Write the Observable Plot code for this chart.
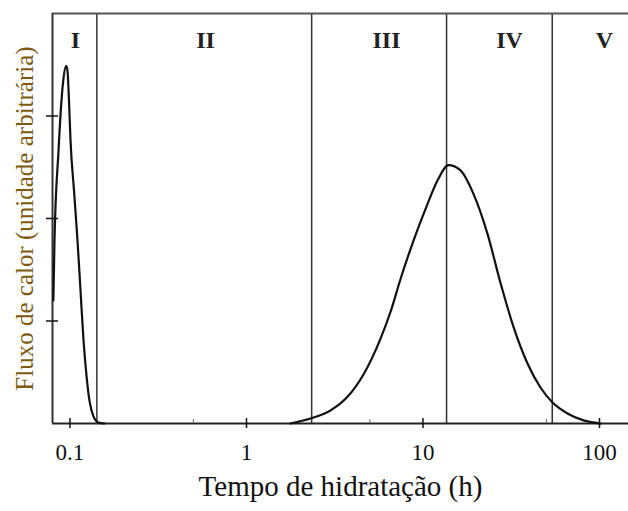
<!DOCTYPE html>
<html><head><meta charset="utf-8">
<script src="https://cdn.jsdelivr.net/npm/d3@7"></script>
<script src="https://cdn.jsdelivr.net/npm/@observablehq/plot@0.6"></script>
<style>body{margin:0;background:#fff}</style>
</head><body><div id="chart"></div>
<script>
// Peak I (initial reaction) – hydration time (h) and heat flux (arbitrary units)
const peak1Time = [0.0805, 0.0817, 0.0861, 0.0895, 0.0919, 0.0952, 0.0968, 0.0987, 0.1007, 0.1054, 0.1103, 0.1147, 0.1193, 0.1240, 0.1290, 0.1358, 0.1450, 0.1568];
const peak1Flux = [1.2, 1.785, 2.66, 3.15, 3.37, 3.49, 3.44, 3.15, 2.76, 2.27, 1.785, 1.30, 0.81, 0.47, 0.22, 0.07, 0.01, 0];
// Peak II (main hydration peak)
const peak2Time = [1.776, 2.305, 2.99, 3.735, 4.60, 5.74, 6.55, 7.46, 8.84, 10.6, 12.08, 13.95, 16.31, 19.32, 23.2, 27.5, 32.6, 39.1, 46.3, 54.2, 65.9, 81.2, 101.3];
const peak2Flux = [0, 0.049, 0.127, 0.26, 0.478, 0.826, 1.09, 1.41, 1.785, 2.14, 2.37, 2.52, 2.47, 2.24, 1.85, 1.37, 0.94, 0.585, 0.351, 0.205, 0.098, 0.03, 0];
// stage boundaries (h)
const boundaries = [0.142, 2.34, 13.6, 54];
const stageLabels = ["I", "II", "III", "IV", "V"];
const stageLabelTime = [0.1075, 0.586, 6.21, 30.9, 106.8];
const stageLabelFlux = 3.74;
const xTicks = [0.1, 1, 10, 100];
const xTickLabels = ["0.1", "1", "10", "100"];
const xMinorTicks = [0.5, 5, 50];
const yTicks = [1, 2, 3];
const xDomain = [0.0796, 146];
const yDomain = [0, 4];
const xTitle = "Tempo de hidratação (h)";
const yTitle = "Fluxo de calor (unidade arbitrária)";

const p1 = peak1Time.map((t, i) => ({t, v: peak1Flux[i]}));
const p2 = peak2Time.map((t, i) => ({t, v: peak2Flux[i]}));
const labels = stageLabels.map((s, i) => ({s, t: stageLabelTime[i], v: stageLabelFlux}));
const serif = "'Liberation Serif', 'Times New Roman', serif";

const chart = Plot.plot({
  width: 628,
  height: 511,
  marginTop: 13,
  marginBottom: 88,
  marginLeft: 52,
  marginRight: 0,
  style: {fontFamily: serif, background: "#fff", color: "#111"},
  x: {type: "log", domain: xDomain, axis: null},
  y: {domain: yDomain, axis: null},
  marks: [
    Plot.ruleX(boundaries, {stroke: "#333", strokeWidth: 1.5}),
    Plot.ruleY([yDomain[0]], {stroke: "#222", strokeWidth: 2}),
    Plot.ruleY([yDomain[1]], {stroke: "#555", strokeWidth: 2}),
    Plot.ruleX([xDomain[0]], {stroke: "#333", strokeWidth: 2}),
    Plot.axisX({ticks: xTicks, tickSize: 10, dy: -5, tickPadding: 15, tickFormat: (d) => xTickLabels[xTicks.indexOf(d)], fontSize: 23, stroke: "#111", strokeWidth: 1.5, label: null, fill: "#111"}),
    Plot.axisX({ticks: xMinorTicks, tickSize: 4, dy: -4, tickFormat: () => "", label: null, stroke: "#666"}),
    Plot.axisY({ticks: yTicks, tickSize: 12, dx: 6, tickFormat: () => "", label: null, stroke: "#111", strokeWidth: 1.5}),
    Plot.line(p1, {x: "t", y: "v", curve: "monotone-x", stroke: "#111", strokeWidth: 2.2}),
    Plot.line(p2, {x: "t", y: "v", curve: "monotone-x", stroke: "#111", strokeWidth: 2.2}),
    Plot.text(labels, {x: "t", y: "v", text: "s", fontSize: 24, fontWeight: "bold", fill: "#222"}),
    Plot.text([xTitle], {frameAnchor: "bottom", dy: 72, fontSize: 29, fill: "#111"}),
    Plot.text([yTitle], {frameAnchor: "left", textAnchor: "middle", dx: -28, rotate: -90, fontSize: 25, fill: "#7d5a12"})
  ]
});
document.getElementById("chart").appendChild(chart);
</script>
</body></html>
